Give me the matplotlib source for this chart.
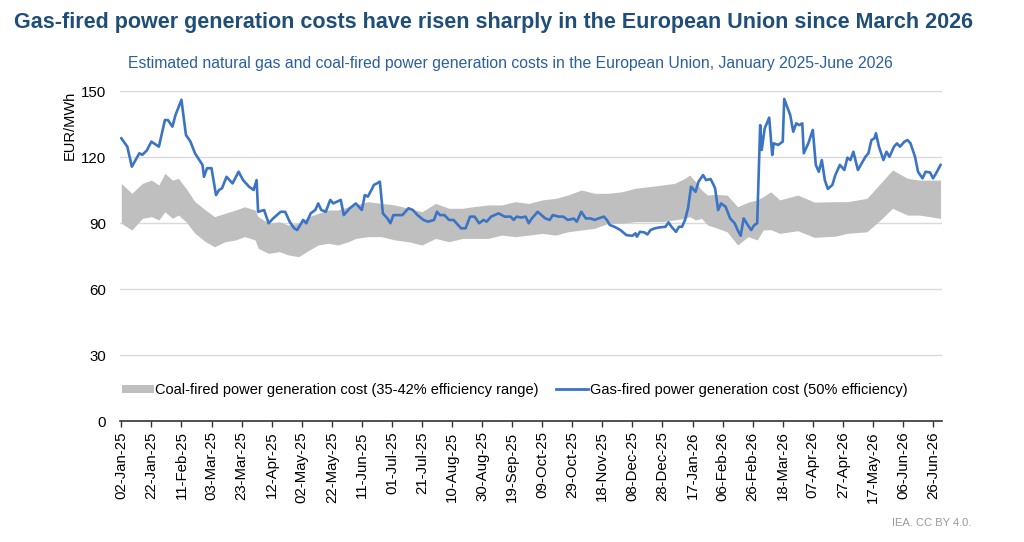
import matplotlib
matplotlib.use("Agg")
import matplotlib.pyplot as plt
import matplotlib.dates as mdates
from matplotlib.patches import Patch
from matplotlib.lines import Line2D
import pandas as pd

plt.rcParams['font.family'] = ['Liberation Sans', 'DejaVu Sans']

START = pd.Timestamp("2025-01-02")

# gas-fired cost (50% efficiency), days since 02-Jan-25 and EUR/MWh
gas_day = [0, 4, 7, 12, 14, 17, 20, 25, 29, 31, 34, 36, 40, 43, 46, 49, 54, 55, 57, 60,
           63, 65, 67, 70, 74, 78, 81, 85, 88, 90, 91, 95, 98, 101, 106, 109, 112, 115, 117, 121,
           123, 126, 129, 131, 133, 136, 139, 141, 146, 148, 152, 156, 160, 162, 164, 167, 168, 170, 172, 174,
           177, 179, 181, 187, 191, 194, 197, 201, 204, 208, 210, 212, 215, 218, 221, 223, 226, 229, 232, 235,
           238, 241, 243, 246, 251, 255, 259, 261, 263, 266, 269, 271, 273, 277, 282, 285, 287, 291, 294, 297,
           301, 303, 306, 309, 312, 315, 317, 321, 323, 325, 328, 332, 336, 340, 342, 343, 345, 348, 350, 352,
           355, 358, 362, 364, 366, 369, 371, 373, 375, 377, 379, 382, 384, 387, 389, 392, 394, 395, 397, 399,
           402, 405, 408, 410, 412, 414, 416, 419, 421, 423, 425, 426, 428, 431, 433, 434, 437, 440, 441, 445,
           447, 449, 451, 453, 454, 457, 460, 462, 464, 466, 468, 470, 473, 475, 478, 481, 483, 485, 487, 490,
           495, 497, 499, 501, 502, 504, 507, 509, 511, 514, 516, 518, 521, 523, 525, 528, 530, 533, 535, 538,
           540, 542, 545]
gas_cost = [128.5, 124.7, 115.6, 121.7, 121, 123, 127, 124.7, 136.8, 136.8, 133.8, 139, 146, 130, 127, 121.7, 116.4, 111, 114.9, 114.9,
            102.7, 105, 105.8, 111, 108, 113.3, 109.5, 106.5, 105, 109.5, 95.1, 95.9, 89.9, 92.1, 95.1, 95.1, 90.6, 87.6, 86.8, 91.4,
            89.9, 94.4, 95.9, 98.9, 95.9, 95.1, 100.5, 98.9, 100.5, 93.6, 96.7, 98.9, 95.9, 102.7, 102, 105.8, 107.3, 108, 108.8, 94.4,
            92.1, 89.9, 93.6, 93.6, 96.7, 95.9, 93.6, 91.4, 90.6, 91.4, 95.1, 93.6, 93.6, 91.4, 91.4, 89.9, 87.6, 87.6, 92.9, 92.9,
            89.9, 91.4, 90.6, 92.9, 94.4, 92.9, 92.9, 91.4, 92.9, 92.5, 92.9, 89.9, 92, 95.1, 92.1, 91.4, 93.6, 92.9, 92.9, 91.4,
            92, 90.6, 95.1, 92.1, 92.1, 91.4, 92, 92.9, 91.4, 89.1, 88.3, 86.8, 84.5, 84.2, 85.3, 83.8, 86, 85.7, 84.8, 86.8,
            87.6, 88, 88.3, 90.3, 88.3, 86, 88.3, 88.3, 91.4, 96.7, 106.5, 104.2, 108.8, 111.8, 109.5, 110, 107.3, 105.8, 95.9, 98.9,
            97.4, 92.1, 89.9, 86.8, 84.2, 92.1, 89.9, 86.8, 89, 89.9, 134.5, 123.2, 133, 137.9, 120.9, 126.2, 125.5, 127, 146.4, 139,
            131.5, 135.3, 134.5, 135.3, 121.7, 126.2, 132.3, 116.4, 113.3, 118.6, 109.5, 105.5, 107.3, 111.8, 116.4, 114.1, 119.7, 118.6, 122.4, 114.1,
            120.1, 121.7, 127.7, 128.5, 130.8, 124.7, 118.6, 122.4, 120.1, 124.7, 126.2, 124.7, 127, 127.7, 126.2, 120.1, 113.3, 110.3, 113.3, 113,
            110.3, 112.6, 116.4]

# coal-fired cost range (35-42% efficiency)
coal_day = [0, 7, 14, 20, 25, 29, 34, 38, 43, 49, 56, 62, 69, 76, 82, 89, 91, 98, 105, 111,
            118, 125, 131, 138, 144, 151, 156, 164, 173, 182, 191, 200, 209, 218, 227, 235, 244, 253, 262, 271,
            280, 289, 297, 306, 315, 324, 333, 342, 351, 360, 368, 375, 378, 382, 386, 390, 395, 403, 410, 417,
            423, 427, 432, 438, 450, 461, 475, 483, 496, 505, 513, 523, 531, 545]
coal_high = [108, 103.5, 108, 109.5, 107.3, 112.6, 109.5, 110.3, 105.8, 99.7, 95.9, 92.9, 94.4, 95.9, 97.4, 95.9, 92.9, 89.9, 90.6, 89.1,
             89.9, 92.9, 94.4, 95.9, 95.9, 97.4, 98.2, 99.7, 98.9, 98.2, 96.7, 95.1, 98.9, 96.7, 96.7, 97.5, 98.2, 98.2, 99.7, 98.9,
             100.5, 101.2, 102.7, 105, 103.5, 103.5, 104.2, 105.8, 106.5, 107.3, 108, 110.3, 111.8, 108.8, 105, 102.7, 103, 102.7, 97.4, 99.5,
             100.5, 102, 104.2, 100.5, 102.7, 99.5, 99.7, 99.7, 101.2, 108, 114.1, 110.3, 109.5, 109.5]
coal_low = [89.9, 86.8, 92.1, 92.9, 91.4, 95.1, 92.1, 93.6, 90.6, 85.3, 81.5, 79.2, 81.5, 82.3, 83.8, 82.3, 78.5, 76.2, 77, 75.5,
            74.7, 77.7, 80, 80.8, 80, 81.5, 83, 83.8, 83.8, 82.3, 81.5, 80, 83, 81.5, 83, 83, 83, 84.5, 83.8, 84.5,
            85.3, 84.5, 86, 86.8, 87.6, 89.9, 89.9, 90.6, 90.6, 90.6, 91.4, 92.1, 92.9, 91.4, 92.1, 89.1, 88, 86, 80, 83.8,
            82.3, 86.8, 87, 85.3, 86.5, 83.5, 84, 85.3, 86, 91.4, 96.7, 93.6, 93.6, 92.1]

y_ticks = [0, 30, 60, 90, 120, 150]

gas_dates = START + pd.to_timedelta(gas_day, unit="D")
coal_dates = START + pd.to_timedelta(coal_day, unit="D")
tick_dates = pd.date_range(START, periods=28, freq="20D")

fig = plt.figure(figsize=(10.24, 5.42), dpi=100)
ax = fig.add_axes([0.117, 0.2232, 0.803, 0.6089])

coal_col = "#bfbfbf"
gas_col = "#3b74c5"

ax.fill_between(coal_dates, coal_low, coal_high, color=coal_col, linewidth=0)
ax.plot(gas_dates, gas_cost, color=gas_col, linewidth=1.9)

ax.set_ylim(0, 150)
ax.set_yticks(y_ticks)
ax.set_xlim(START - pd.Timedelta(days=1), START + pd.Timedelta(days=546))
ax.set_xticks(tick_dates)
ax.xaxis.set_major_formatter(mdates.DateFormatter("%d-%b-%y"))
ax.tick_params(axis="x", rotation=90, labelsize=10.8, length=4, width=1, color="#333333")
ax.tick_params(axis="y", labelsize=10.8, length=0, pad=10)
ax.grid(axis="y", color="#d9d9d9", linewidth=1)
ax.set_axisbelow(True)
for s in ["top", "right", "left"]:
    ax.spines[s].set_visible(False)
ax.spines["bottom"].set_color("#333333")
ax.spines["bottom"].set_linewidth(1.2)

ax.set_ylabel("EUR/MWh", fontsize=10.5, loc="top", labelpad=3)

handles = [Patch(facecolor=coal_col, edgecolor="none"),
           Line2D([0], [0], color=gas_col, linewidth=2)]
labels = ["Coal-fired power generation cost (35-42% efficiency range)",
          "Gas-fired power generation cost (50% efficiency)"]
ax.legend(handles, labels, loc="center", bbox_to_anchor=(0.48, 0.094), ncol=2, frameon=False,
          fontsize=10.5, handlelength=2.2, handleheight=0.5, handletextpad=0.1, columnspacing=1.2)

fig.text(0.014, 0.958, "Gas-fired power generation costs have risen sharply in the European Union since March 2026",
         fontsize=15.5, fontweight="bold", color="#1f4e79", va="center", ha="left")
fig.text(0.498, 0.882, "Estimated natural gas and coal-fired power generation costs in the European Union, January 2025-June 2026",
         fontsize=11.3, color="#2a5fa0", va="center", ha="center")
fig.text(0.948, 0.035, "IEA. CC BY 4.0.", fontsize=8, color="#999999", ha="right", va="center")

fig.savefig("out.png", dpi=100)
